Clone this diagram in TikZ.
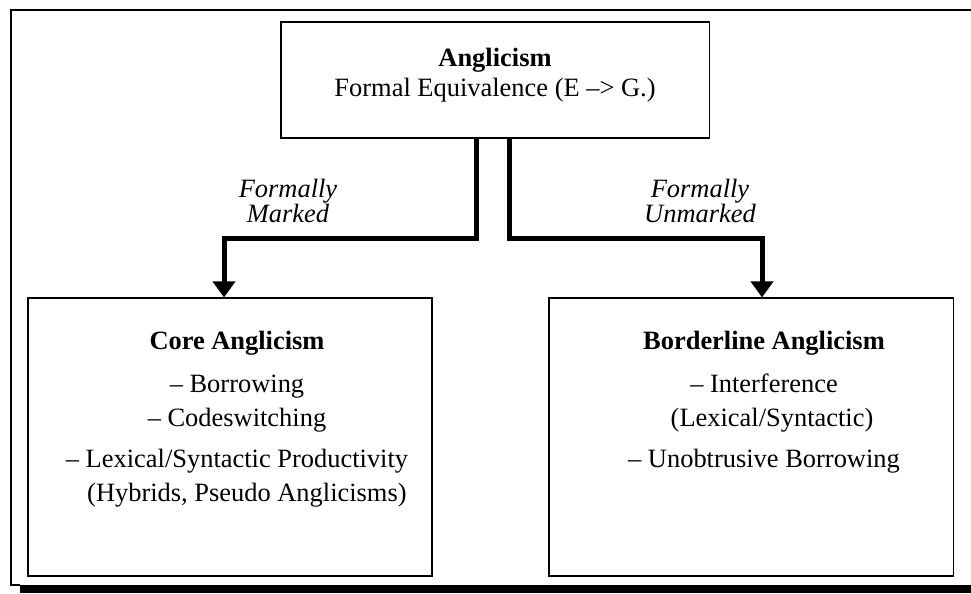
\documentclass[tikz,border=0pt]{standalone}
\usepackage{fontspec}
\setmainfont{Liberation Serif}
\usetikzlibrary{arrows.meta,positioning}

\begin{document}
\begin{tikzpicture}[x=0.025cm,y=-0.025cm,
  font=\fontsize{18.8}{24.2}\selectfont,
  conceptbox/.style={rectangle,draw=black,line width=0.8pt,minimum width=10.1cm,minimum height=6.95cm},
  conceptbody/.style={align=center,inner sep=0pt},
  branch/.style={line width=0.125cm,-{Triangle[length=0.4cm,width=0.55cm]}},
  branchlabel/.style={align=center,inner sep=0pt,font=\fontsize{18.8}{16.4}\selectfont\itshape},
  frameline/.style={line width=1.7pt}]
  \useasboundingbox (0,0) rectangle (971,593);

  % frame round the figure, with its shadow
  \draw[frameline] (20,585) -- (11,585) -- (11,10) -- (971,10);
  \fill[black] (20,585) rectangle (971,593);

  \path
  (495,80) node[conceptbox,minimum width=10.7cm,minimum height=2.9cm] (angl) {}
  (230,437) node[conceptbox] (core) {}
  (751,437) node[conceptbox] (border) {}
  (288,201) node[branchlabel] (marked) {Formally\\Marked}
  (700,201) node[branchlabel] (unmarked) {Formally\\Unmarked};

  \node[conceptbody,below=0.65cm of angl.north] (angltext)
    {\textbf{Anglicism}\\[-2.2pt]Formal Equivalence (E --> G.)};
  \node[conceptbody,below=0.825cm of core.north,xshift=0.175cm] (coretext)
    {\textbf{Core Anglicism}\\[6.4pt]-- Borrowing\\-- Codeswitching\\[5pt]%
     -- Lexical/Syntactic Productivity\\\phantom{-- }(Hybrids, Pseudo Anglicisms)};
  \node[conceptbody,below=0.825cm of border.north,xshift=0.325cm] (bordertext)
    {\textbf{Borderline Anglicism}\\[6.4pt]-- Interference\\\hspace*{0.4cm}(Lexical/Syntactic)\\[5pt]%
     -- Unobtrusive Borrowing};

  \coordinate (lturn) at (224,238);
  \coordinate (rturn) at (762,238);
  \draw[branch] ([xshift=-0.475cm]angl.south) |- (lturn) -- (lturn |- core.north);
  \draw[branch] ([xshift=0.35cm]angl.south) |- (rturn) -- (rturn |- border.north);
\end{tikzpicture}
\end{document}
